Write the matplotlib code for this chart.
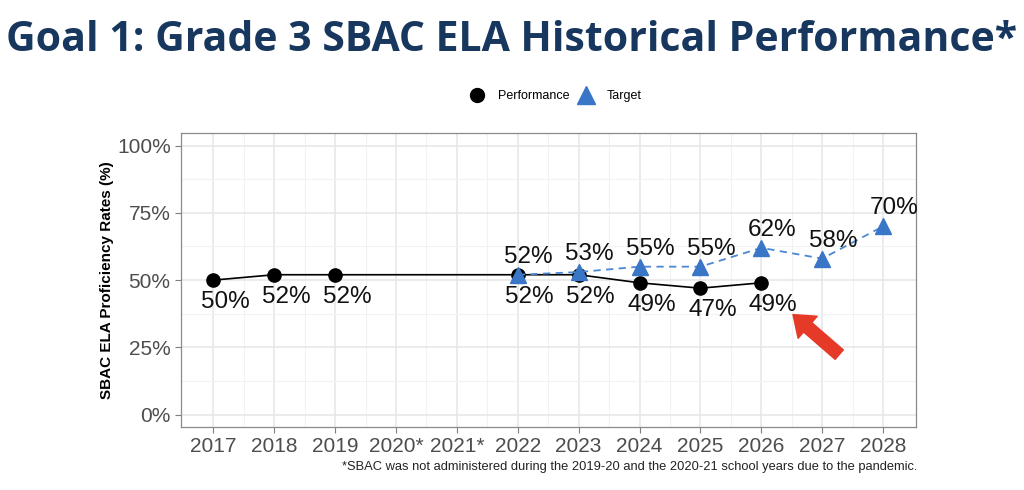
import numpy as np
import matplotlib.pyplot as plt
from matplotlib.lines import Line2D

years = ['2017', '2018', '2019', '2020*', '2021*', '2022', '2023',
         '2024', '2025', '2026', '2027', '2028']
perf_years = ['2017', '2018', '2019', '2022', '2023', '2024', '2025', '2026']
perf_vals = [50, 52, 52, 52, 52, 49, 47, 49]
target_years = ['2022', '2023', '2024', '2025', '2026', '2027', '2028']
target_vals = [52, 53, 55, 55, 62, 58, 70]
y_ticks = [0, 25, 50, 75, 100]

plt.rcParams['font.family'] = ['Liberation Sans', 'DejaVu Sans']

fig = plt.figure(figsize=(10.24, 4.9), dpi=100)
ax = fig.add_axes([0.1768, 0.1286, 0.7177, 0.6])

xi = {y: i for i, y in enumerate(years)}
px = [xi[y] for y in perf_years]
tx = [xi[y] for y in target_years]

blue = '#3a76c8'
ax.plot(px, perf_vals, color='black', lw=1.2, marker='o', ms=9.5, zorder=3)
ax.plot(tx, target_vals, color='#4a88d4', lw=1.3, ls=(0, (4, 3)),
        marker='^', ms=11, mfc=blue, mec=blue, zorder=4)

for x, v in zip(px, perf_vals):
    ax.annotate(f'{v}%', (x, v), xytext=(12, -22), textcoords='offset pixels',
                ha='center', va='center', fontsize=17.5, color='#111111', zorder=5)
for x, v in zip(tx, target_vals):
    ax.annotate(f'{v}%', (x, v), xytext=(11, 18), textcoords='offset pixels',
                ha='center', va='center', fontsize=17.5, color='#111111', zorder=5)

# red arrow pointing at the latest result
ax.annotate('', xy=(9.52, 37.2), xytext=(10.28, 22.3),
            arrowprops=dict(arrowstyle='simple,head_length=0.7,head_width=1.05,tail_width=0.45',
                            mutation_scale=20, color='#e63a28', shrinkA=0, shrinkB=0),
            zorder=6)

ax.set_xlim(-0.53, 11.54)
ax.set_ylim(-4.6, 104.7)
ax.set_xticks(range(len(years)))
ax.set_xticklabels(years)
ax.set_xticks(np.arange(0.5, len(years) - 1, 1), minor=True)
ax.set_yticks(y_ticks)
ax.set_yticklabels([f'{t}%' for t in y_ticks])
ax.set_yticks(np.arange(12.5, 100, 25), minor=True)
ax.grid(which='major', color='#e6e6e6', lw=1.1)
ax.grid(which='minor', color='#f2f2f2', lw=0.8)
ax.set_axisbelow(True)
ax.tick_params(which='major', labelsize=15, labelcolor='#4d4d4d', color='#7f7f7f',
               length=4, width=0.8)
ax.tick_params(which='minor', length=0)
for s in ax.spines.values():
    s.set_color('#8a8a8a')
    s.set_linewidth(0.9)

ax.set_ylabel('SBAC ELA Proficiency Rates (%)', fontsize=11, fontweight='bold',
              labelpad=2)

handles = [Line2D([], [], ls='', marker='o', color='black', ms=10),
           Line2D([], [], ls='', marker='^', color=blue, ms=13)]
fig.legend(handles, ['Performance', 'Target'], loc='center', bbox_to_anchor=(0.542, 0.804),
           ncol=2, frameon=False, fontsize=9, handletextpad=0.9, columnspacing=0.6,
           handlelength=1.5)

fig.text(0.5, 0.918, 'Goal 1: Grade 3 SBAC ELA Historical Performance*',
         ha='center', va='center', fontsize=29.5, fontweight='bold', color='#17375e',
         family=['Open Sans', 'DejaVu Sans'])
fig.text(0.8955, 0.047,
         '*SBAC was not administered during the 2019-20 and the 2020-21 school years due to the pandemic.',
         ha='right', va='center', fontsize=9.3, color='#222222')

fig.savefig('out.png', dpi=100)
